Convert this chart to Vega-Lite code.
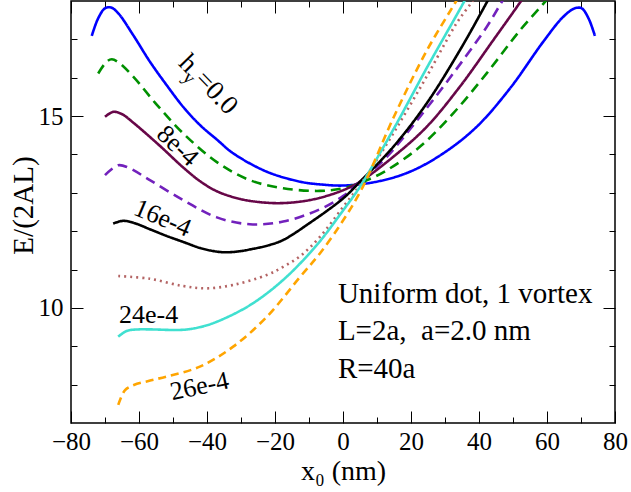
{
  "$schema": "https://vega.github.io/schema/vega-lite/v6.json",
  "width": 544,
  "height": 422,
  "autosize": {"type": "none"},
  "padding": {"left": 71, "top": 1, "right": 16, "bottom": 69},
  "background": "white",
  "config": {
    "font": "Liberation Serif",
    "view": {"stroke": "black", "strokeWidth": 1.5},
    "axis": {
      "grid": false, "domain": false,
      "labelFont": "Liberation Serif", "labelFontSize": 25, "labelColor": "black",
      "tickColor": "black", "tickWidth": 1,
      "titleFont": "Liberation Serif", "titleFontSize": 29, "titleFontWeight": "normal", "titleColor": "black",
      "labelOverlap": false, "labelFlush": false
    }
  },
  "resolve": {"axis": {"x": "independent", "y": "independent"}},
  "layer": [
    {
      "data": {"values": [
        {"s":"h0","x":-73.9,"y":17.09},{"s":"h0","x":-72.0,"y":17.55},{"s":"h0","x":-70.0,"y":17.81},{"s":"h0","x":-68.2,"y":17.83},{"s":"h0","x":-66.1,"y":17.68},{"s":"h0","x":-61.7,"y":17.11},{"s":"h0","x":-56.8,"y":16.42},{"s":"h0","x":-51.9,"y":15.81},{"s":"h0","x":-47.0,"y":15.24},{"s":"h0","x":-42.1,"y":14.77},{"s":"h0","x":-37.0,"y":14.38},{"s":"h0","x":-32.3,"y":14.03},{"s":"h0","x":-22.4,"y":13.55},{"s":"h0","x":-12.6,"y":13.29},{"s":"h0","x":-6.8,"y":13.22},{"s":"h0","x":0.1,"y":13.19},{"s":"h0","x":9.9,"y":13.29},{"s":"h0","x":19.7,"y":13.55},{"s":"h0","x":29.5,"y":14.03},{"s":"h0","x":39.3,"y":14.72},{"s":"h0","x":49.1,"y":15.72},{"s":"h0","x":58.9,"y":16.94},{"s":"h0","x":64.8,"y":17.59},{"s":"h0","x":68.2,"y":17.81},{"s":"h0","x":70.2,"y":17.81},{"s":"h0","x":72.2,"y":17.55},{"s":"h0","x":74.1,"y":17.09},
        {"s":"h4","x":-72.0,"y":16.11},{"s":"h4","x":-69.5,"y":16.42},{"s":"h4","x":-68.0,"y":16.48},{"s":"h4","x":-66.0,"y":16.4},{"s":"h4","x":-61.7,"y":16.03},{"s":"h4","x":-54.8,"y":15.3},{"s":"h4","x":-47.0,"y":14.55},{"s":"h4","x":-37.1,"y":13.8},{"s":"h4","x":-27.4,"y":13.33},{"s":"h4","x":-17.6,"y":13.12},{"s":"h4","x":-6.8,"y":13.05},{"s":"h4","x":0.1,"y":13.12},{"s":"h4","x":6.0,"y":13.29},{"s":"h4","x":12.9,"y":13.59},{"s":"h4","x":22.6,"y":14.2},{"s":"h4","x":32.4,"y":15.07},{"s":"h4","x":42.3,"y":16.12},{"s":"h4","x":52.1,"y":17.24},{"s":"h4","x":59.9,"y":18.03},{"s":"h4","x":63.0,"y":18.4},
        {"s":"h8","x":-70.0,"y":14.98},{"s":"h8","x":-67.6,"y":15.11},{"s":"h8","x":-65.0,"y":15.05},{"s":"h8","x":-61.7,"y":14.83},{"s":"h8","x":-53.8,"y":14.22},{"s":"h8","x":-47.0,"y":13.66},{"s":"h8","x":-42.0,"y":13.3},{"s":"h8","x":-37.1,"y":13.04},{"s":"h8","x":-32.0,"y":12.88},{"s":"h8","x":-27.4,"y":12.79},{"s":"h8","x":-19.5,"y":12.73},{"s":"h8","x":-12.6,"y":12.77},{"s":"h8","x":-6.8,"y":12.87},{"s":"h8","x":0.1,"y":13.07},{"s":"h8","x":5.0,"y":13.29},{"s":"h8","x":14.8,"y":13.94},{"s":"h8","x":24.6,"y":14.72},{"s":"h8","x":34.4,"y":15.77},{"s":"h8","x":44.2,"y":16.98},{"s":"h8","x":52.6,"y":18.03},{"s":"h8","x":55.0,"y":18.35},
        {"s":"h12","x":-70.0,"y":13.46},{"s":"h12","x":-66.1,"y":13.72},{"s":"h12","x":-63.0,"y":13.65},{"s":"h12","x":-56.8,"y":13.33},{"s":"h12","x":-47.0,"y":12.81},{"s":"h12","x":-37.1,"y":12.36},{"s":"h12","x":-27.4,"y":12.18},{"s":"h12","x":-17.6,"y":12.25},{"s":"h12","x":-6.8,"y":12.57},{"s":"h12","x":0.1,"y":12.92},{"s":"h12","x":5.0,"y":13.29},{"s":"h12","x":12.9,"y":13.94},{"s":"h12","x":22.6,"y":14.98},{"s":"h12","x":32.4,"y":16.11},{"s":"h12","x":42.3,"y":17.33},{"s":"h12","x":47.1,"y":18.03},{"s":"h12","x":50.0,"y":18.4},
        {"s":"h16","x":-67.6,"y":12.2},{"s":"h16","x":-64.6,"y":12.27},{"s":"h16","x":-61.0,"y":12.2},{"s":"h16","x":-56.8,"y":12.05},{"s":"h16","x":-52.0,"y":11.88},{"s":"h16","x":-47.0,"y":11.72},{"s":"h16","x":-42.0,"y":11.56},{"s":"h16","x":-38.0,"y":11.48},{"s":"h16","x":-35.0,"y":11.45},{"s":"h16","x":-31.0,"y":11.47},{"s":"h16","x":-27.0,"y":11.53},{"s":"h16","x":-22.0,"y":11.63},{"s":"h16","x":-17.6,"y":11.77},{"s":"h16","x":-9.7,"y":12.22},{"s":"h16","x":0.1,"y":12.86},{"s":"h16","x":5.0,"y":13.29},{"s":"h16","x":14.8,"y":14.2},{"s":"h16","x":24.6,"y":15.33},{"s":"h16","x":34.4,"y":16.72},{"s":"h16","x":42.7,"y":18.03},{"s":"h16","x":45.0,"y":18.4},
        {"s":"h20","x":-66.1,"y":10.83},{"s":"h20","x":-56.8,"y":10.76},{"s":"h20","x":-47.0,"y":10.57},{"s":"h20","x":-40.1,"y":10.51},{"s":"h20","x":-32.3,"y":10.6},{"s":"h20","x":-22.4,"y":10.86},{"s":"h20","x":-17.6,"y":11.07},{"s":"h20","x":-12.6,"y":11.35},{"s":"h20","x":-6.8,"y":11.85},{"s":"h20","x":0.1,"y":12.64},{"s":"h20","x":6.0,"y":13.33},{"s":"h20","x":14.8,"y":14.55},{"s":"h20","x":24.6,"y":16.03},{"s":"h20","x":33.4,"y":17.42},{"s":"h20","x":38.3,"y":18.03},{"s":"h20","x":40.5,"y":18.4},
        {"s":"h24","x":-66.1,"y":9.25},{"s":"h24","x":-63.6,"y":9.4},{"s":"h24","x":-60.0,"y":9.44},{"s":"h24","x":-56.8,"y":9.44},{"s":"h24","x":-47.0,"y":9.43},{"s":"h24","x":-42.0,"y":9.5},{"s":"h24","x":-37.1,"y":9.64},{"s":"h24","x":-27.4,"y":10.07},{"s":"h24","x":-17.6,"y":10.73},{"s":"h24","x":-7.7,"y":11.64},{"s":"h24","x":0.1,"y":12.55},{"s":"h24","x":5.0,"y":13.16},{"s":"h24","x":14.8,"y":14.65},{"s":"h24","x":24.6,"y":16.25},{"s":"h24","x":35.9,"y":18.03},{"s":"h24","x":38.0,"y":18.4},
        {"s":"h26","x":-66.1,"y":7.47},{"s":"h26","x":-64.1,"y":7.86},{"s":"h26","x":-61.5,"y":7.99},{"s":"h26","x":-57.0,"y":8.1},{"s":"h26","x":-51.9,"y":8.21},{"s":"h26","x":-42.1,"y":8.47},{"s":"h26","x":-32.3,"y":8.99},{"s":"h26","x":-22.4,"y":9.77},{"s":"h26","x":-12.6,"y":10.81},{"s":"h26","x":-6.8,"y":11.42},{"s":"h26","x":0.1,"y":12.29},{"s":"h26","x":5.8,"y":13.15},{"s":"h26","x":14.8,"y":14.95},{"s":"h26","x":24.6,"y":16.7},{"s":"h26","x":33.5,"y":18.03},{"s":"h26","x":35.5,"y":18.35}
      ]},
      "mark": {"type": "line", "interpolate": "catmull-rom", "clip": true},
      "encoding": {
        "x": {"field": "x", "type": "quantitative",
          "scale": {"domain": [-80, 80], "nice": false, "zero": false},
          "axis": {"orient": "bottom", "title": "x₀ (nm)", "values": [-80,-70,-60,-50,-40,-30,-20,-10,0,10,20,30,40,50,60,70,80],
            "labelExpr": "datum.value % 20 === 0 ? datum.label : ''",
            "labelFont": "Liberation Serif", "labelFontSize": 25, "titleFont": "Liberation Serif", "titleFontSize": 28,
            "tickSize": {"condition": {"test": "datum.value % 20 === 0", "value": -12}, "value": -6},
            "labelPadding": 18, "titleBaseline": "alphabetic", "titleY": 56}},
        "y": {"field": "y", "type": "quantitative",
          "scale": {"domain": [7, 18], "nice": false, "zero": false},
          "axis": {"orient": "left", "title": "E/(2AL)", "values": [8,9,10,11,12,13,14,15,16,17],
            "labelExpr": "datum.value % 5 === 0 ? datum.label : ''",
            "labelFont": "Liberation Serif", "labelFontSize": 25, "titleFont": "Liberation Serif", "titleFontSize": 29,
            "tickSize": {"condition": {"test": "datum.value % 5 === 0", "value": -12}, "value": -6},
            "labelPadding": 20, "titleBaseline": "middle", "titleX": -48, "titleY": 204, "titleAngle": -90}},
        "detail": {"field": "s"},
        "color": {"field": "s", "type": "nominal", "legend": null,
          "scale": {"domain": ["h0","h4","h8","h12","h16","h20","h24","h26"],
            "range": ["#0000ff","#009000","#670748","#7221bc","#000000","#b46464","#40e0d0","#ffa500"]}},
        "strokeDash": {"field": "s", "type": "nominal", "legend": null,
          "scale": {"domain": ["h0","h4","h8","h12","h16","h20","h24","h26"],
            "range": [[1,0],[10,6],[1,0],[10,6],[1,0],[2,4],[1,0],[8,5]]}},
        "strokeWidth": {"field": "s", "type": "nominal", "legend": null,
          "scale": {"domain": ["h0","h4","h8","h12","h16","h20","h24","h26"],
            "range": [2.6,2.6,1.4,1.4,1.4,2,1.5,1.5]}}
      }
    },
    {
      "data": {"values": [
        {"text": "Uniform dot, 1 vortex", "x": -1.5, "y": 10.13},
        {"text": "L=2a,\u00a0 a=2.0 nm", "x": -1.5, "y": 9.16},
        {"text": "R=40a", "x": -1.5, "y": 8.16}
      ]},
      "mark": {"type": "text", "align": "left", "baseline": "alphabetic", "fontSize": 29, "font": "Liberation Serif", "color": "black"},
      "encoding": {
        "x": {"field": "x", "type": "quantitative",
          "scale": {"domain": [-80, 80], "nice": false, "zero": false},
          "axis": {"orient": "top", "title": null, "labels": false, "values": [-80,-70,-60,-50,-40,-30,-20,-10,0,10,20,30,40,50,60,70,80],
            "tickSize": {"condition": {"test": "datum.value % 20 === 0", "value": -12}, "value": -6}}},
        "y": {"field": "y", "type": "quantitative",
          "scale": {"domain": [7, 18], "nice": false, "zero": false},
          "axis": {"orient": "right", "title": null, "labels": false, "values": [8,9,10,11,12,13,14,15,16,17],
            "tickSize": {"condition": {"test": "datum.value % 5 === 0", "value": -12}, "value": -6}}},
        "text": {"field": "text"}
      }
    },
    {
      "data": {"values": [{"label": "24e-4", "x": -65.9, "y": 9.6}]},
      "mark": {"type": "text", "align": "left", "baseline": "alphabetic", "fontSize": 26, "font": "Liberation Serif", "color": "black"},
      "encoding": {"x": {"field": "x", "type": "quantitative", "axis": null}, "y": {"field": "y", "type": "quantitative", "axis": null}, "text": {"field": "label"}}
    },
    {
      "data": {"values": [{"label": "26e-4", "x": -50.2, "y": 7.59}]},
      "mark": {"type": "text", "align": "left", "baseline": "alphabetic", "fontSize": 26, "angle": -12, "font": "Liberation Serif", "color": "black"},
      "encoding": {"x": {"field": "x", "type": "quantitative", "axis": null}, "y": {"field": "y", "type": "quantitative", "axis": null}, "text": {"field": "label"}}
    },
    {
      "data": {"values": [{"label": "16e-4", "x": -62.0, "y": 12.45}]},
      "mark": {"type": "text", "align": "left", "baseline": "alphabetic", "fontSize": 26, "angle": 23, "font": "Liberation Serif", "color": "black"},
      "encoding": {"x": {"field": "x", "type": "quantitative", "axis": null}, "y": {"field": "y", "type": "quantitative", "axis": null}, "text": {"field": "label"}}
    },
    {
      "data": {"values": [{"label": "8e-4", "x": -55.2, "y": 14.48}]},
      "mark": {"type": "text", "align": "left", "baseline": "alphabetic", "fontSize": 26, "angle": 43, "font": "Liberation Serif", "color": "black"},
      "encoding": {"x": {"field": "x", "type": "quantitative", "axis": null}, "y": {"field": "y", "type": "quantitative", "axis": null}, "text": {"field": "label"}}
    },
    {
      "data": {"values": [{"label": "h", "x": -48.7, "y": 16.35}]},
      "mark": {"type": "text", "align": "left", "baseline": "alphabetic", "fontSize": 27, "angle": 46, "font": "Liberation Serif", "color": "black"},
      "encoding": {"x": {"field": "x", "type": "quantitative", "axis": null}, "y": {"field": "y", "type": "quantitative", "axis": null}, "text": {"field": "label"}}
    },
    {
      "data": {"values": [{"label": "y", "x": -48.7, "y": 16.35}]},
      "mark": {"type": "text", "align": "left", "baseline": "alphabetic", "fontSize": 19, "angle": 46, "dx": 13, "dy": 7, "font": "Liberation Serif", "color": "black"},
      "encoding": {"x": {"field": "x", "type": "quantitative", "axis": null}, "y": {"field": "y", "type": "quantitative", "axis": null}, "text": {"field": "label"}}
    },
    {
      "data": {"values": [{"label": "=0.0", "x": -48.7, "y": 16.35}]},
      "mark": {"type": "text", "align": "left", "baseline": "alphabetic", "fontSize": 27, "angle": 46, "dx": 23, "font": "Liberation Serif", "color": "black"},
      "encoding": {"x": {"field": "x", "type": "quantitative", "axis": null}, "y": {"field": "y", "type": "quantitative", "axis": null}, "text": {"field": "label"}}
    }
  ]
}
